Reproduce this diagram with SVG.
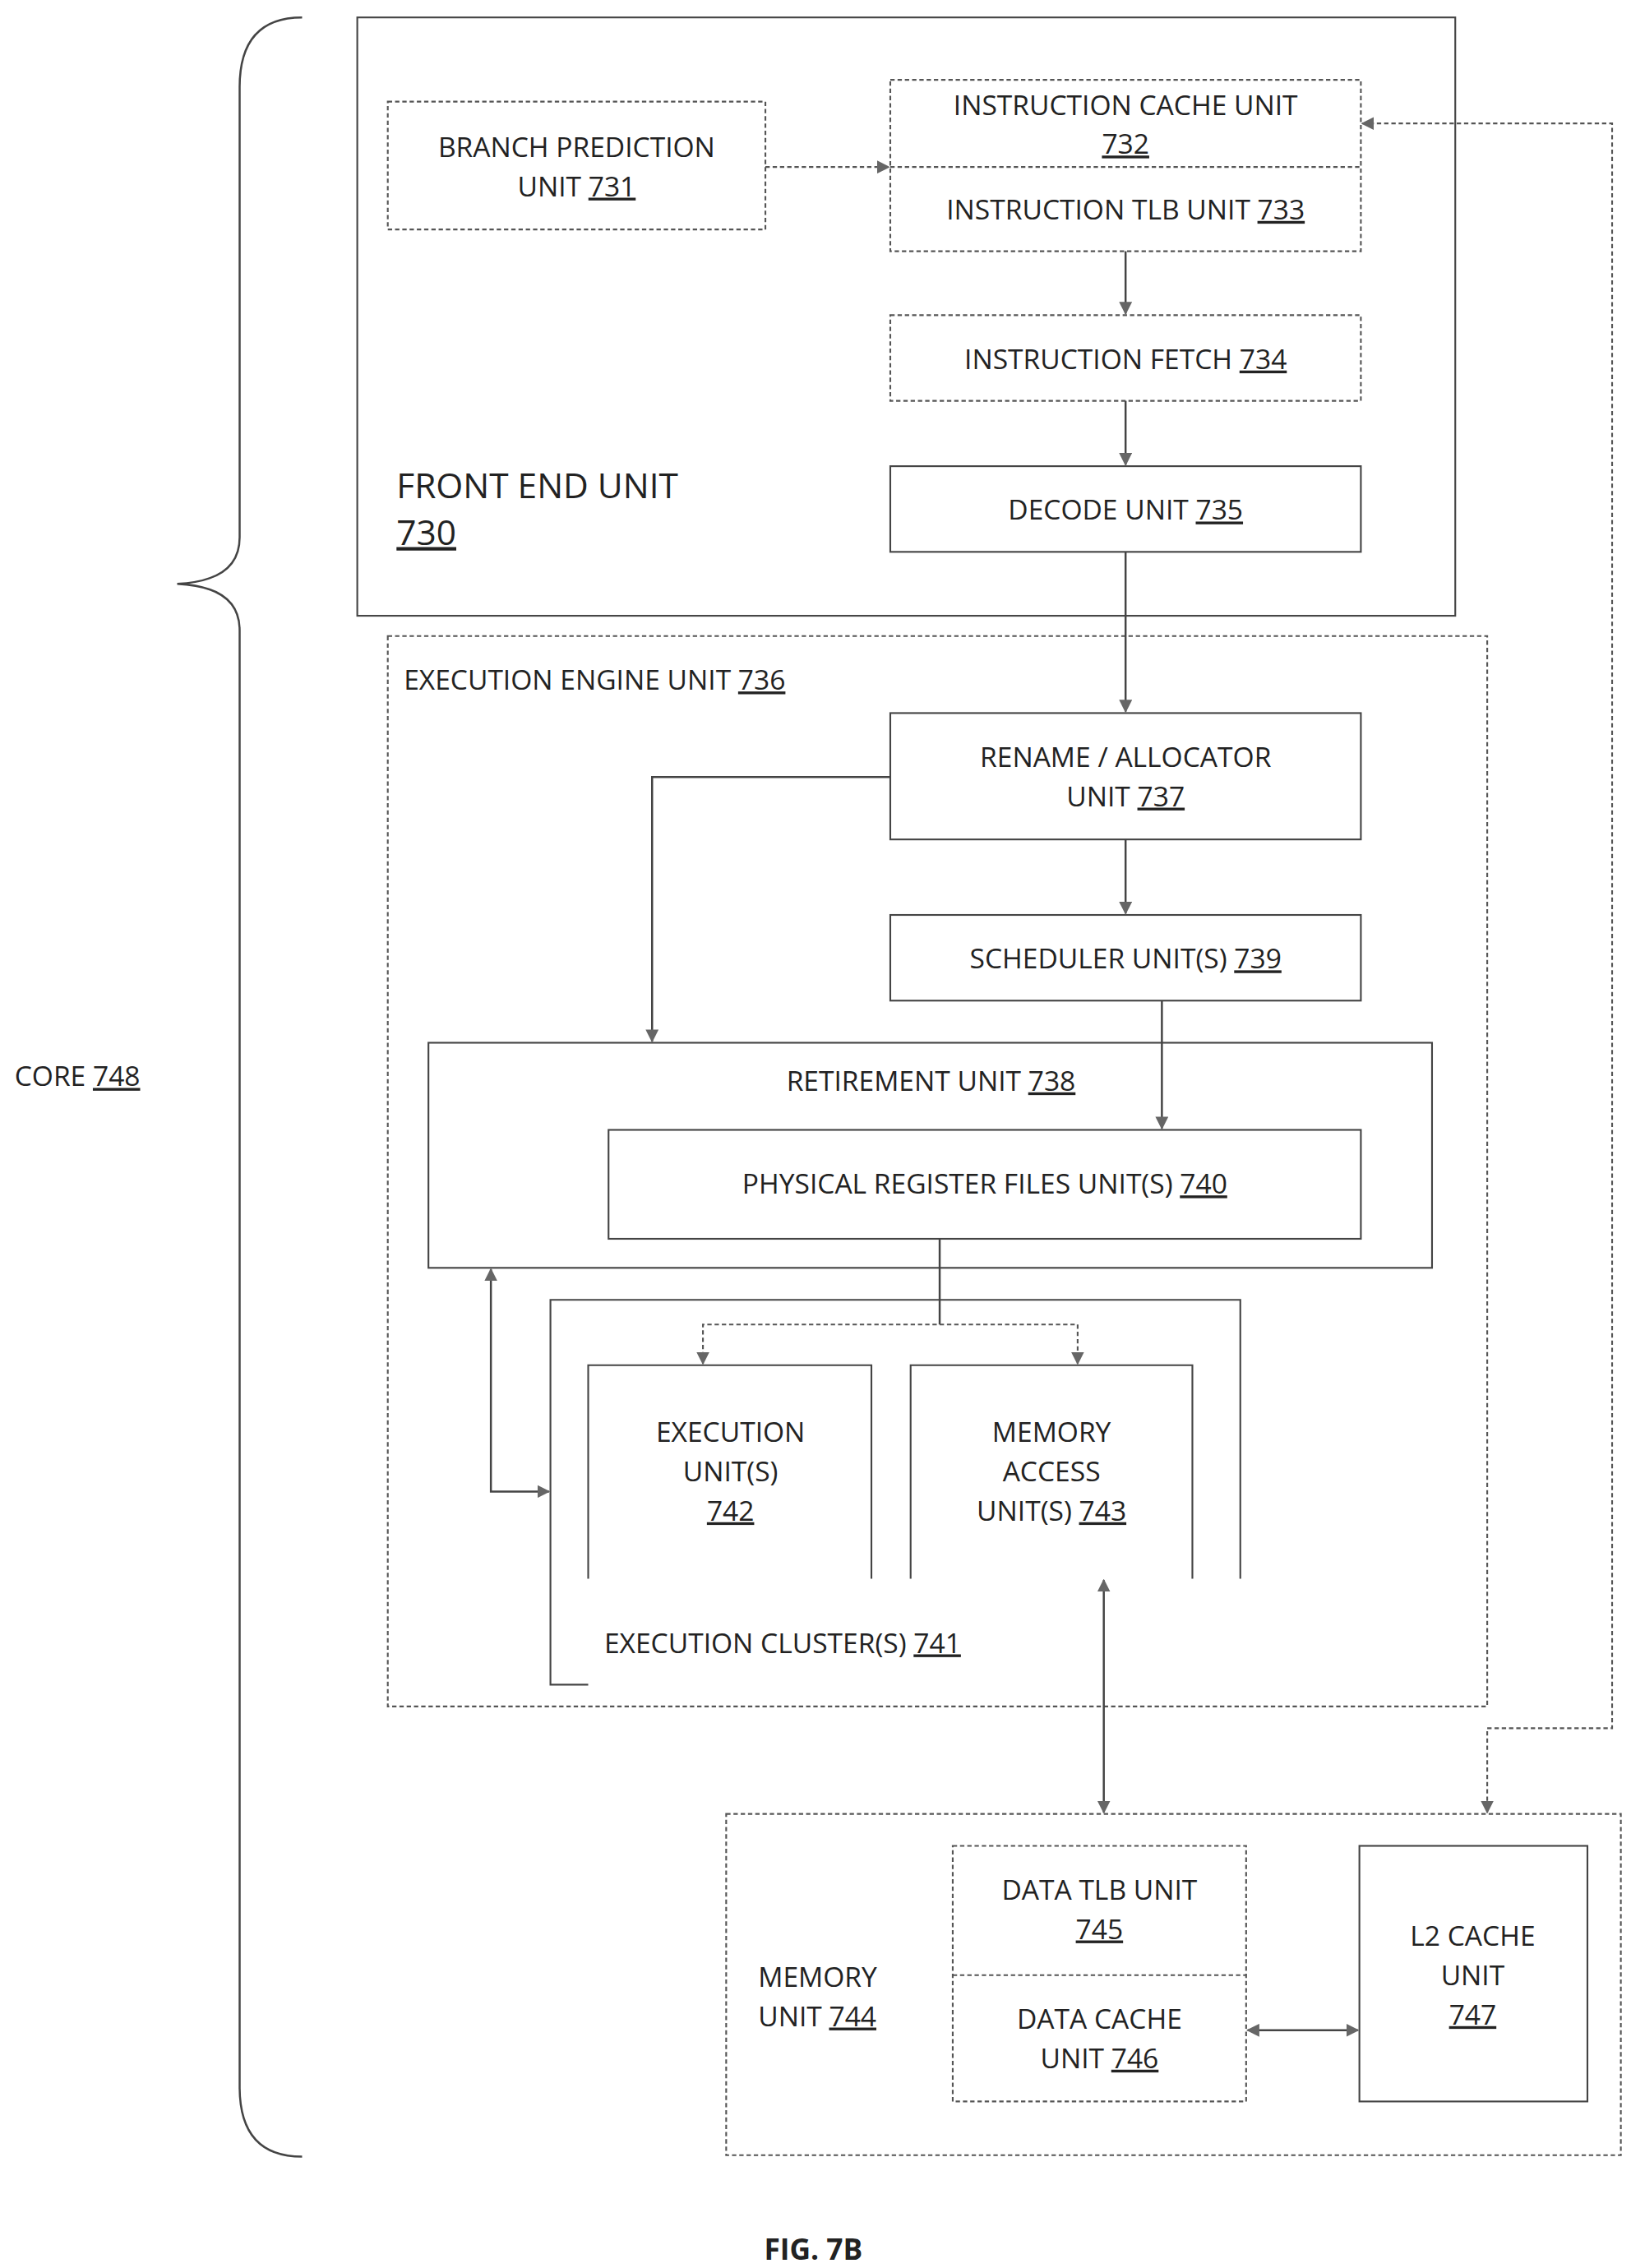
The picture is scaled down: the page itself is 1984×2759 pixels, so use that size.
<svg xmlns="http://www.w3.org/2000/svg" width="1984" height="2759" viewBox="0 0 1984 2759">
<defs>
<style>
.t{font-family:"Open Sans","Liberation Sans",sans-serif;font-size:19px;fill:#222;text-anchor:middle}
.tl{font-family:"Open Sans","Liberation Sans",sans-serif;font-size:19px;fill:#222}
.big{font-size:24px}
.fig{font-size:20px;font-weight:bold}
.box{fill:none;stroke:#444;stroke-width:1.2}
.dbox{fill:none;stroke:#555;stroke-width:1.2;stroke-dasharray:3 2}
.c{fill:none;stroke:#444;stroke-width:1.4}
.cd{fill:none;stroke:#555;stroke-width:1.2;stroke-dasharray:3 2}
</style>
<marker id="a" viewBox="0 0 10 10" refX="9" refY="5" markerWidth="9" markerHeight="9" orient="auto-start-reverse" markerUnits="userSpaceOnUse">
<path d="M0,0 L10,5 L0,10 z" fill="#666"/>
</marker>
</defs>
<rect width="1984" height="2759" fill="#fff"/>
<g transform="scale(1.7667)">
<g id="brace"><path class="c" d="M208,12 Q165,12 165,60 L165,370 Q165,400 122,402 Q165,404 165,434 L165,1437 Q165,1485 208,1485" stroke="#555"/></g>
<g id="core"><text class="tl" x="10" y="748">CORE <tspan text-decoration="underline">748</tspan></text></g>
<g id="frontend"><rect class="box" x="246" y="12" width="756" height="412"/>
<text class="tl big" x="273" y="343">FRONT END UNIT</text>
<text class="tl big" x="273" y="375" text-decoration="underline">730</text></g>
<g id="bpu"><rect class="dbox" x="267" y="70" width="260" height="88"/>
<text class="t" x="397" y="108">BRANCH PREDICTION</text>
<text class="t" x="397" y="135">UNIT <tspan text-decoration="underline">731</tspan></text></g>
<g id="icache"><rect class="dbox" x="613" y="55" width="324" height="118"/><line class="cd" x1="613" y1="115" x2="937" y2="115"/>
<text class="t" x="775" y="79">INSTRUCTION CACHE UNIT</text>
<text class="t" x="775" y="106" text-decoration="underline">732</text>
<text class="t" x="775" y="151">INSTRUCTION TLB UNIT <tspan text-decoration="underline">733</tspan></text></g>
<g id="fetch"><rect class="dbox" x="613" y="217" width="324" height="59"/>
<text class="t" x="775" y="254">INSTRUCTION FETCH <tspan text-decoration="underline">734</tspan></text></g>
<g id="decode"><rect class="box" x="613" y="321" width="324" height="59"/>
<text class="t" x="775" y="358">DECODE UNIT <tspan text-decoration="underline">735</tspan></text></g>
<g id="exec-engine"><rect class="dbox" x="267" y="438" width="757" height="737"/>
<text class="tl" x="278" y="475">EXECUTION ENGINE UNIT <tspan text-decoration="underline">736</tspan></text></g>
<g id="rename"><rect class="box" x="613" y="491" width="324" height="87"/>
<text class="t" x="775" y="528">RENAME / ALLOCATOR</text>
<text class="t" x="775" y="555">UNIT <tspan text-decoration="underline">737</tspan></text></g>
<g id="sched"><rect class="box" x="613" y="630" width="324" height="59"/>
<text class="t" x="775" y="667">SCHEDULER UNIT(S) <tspan text-decoration="underline">739</tspan></text></g>
<g id="retire"><rect class="box" x="295" y="718" width="691" height="155"/>
<text class="t" x="641" y="751">RETIREMENT UNIT <tspan text-decoration="underline">738</tspan></text></g>
<g id="prf"><rect class="box" x="419" y="778" width="518" height="75"/>
<text class="t" x="678" y="822">PHYSICAL REGISTER FILES UNIT(S) <tspan text-decoration="underline">740</tspan></text></g>
<g id="cluster"><path class="box" d="M405,1160 L379,1160 L379,895 L854,895 L854,1087"/>
<text class="tl" x="416" y="1138">EXECUTION CLUSTER(S) <tspan text-decoration="underline">741</tspan></text></g>
<g id="eu"><path class="box" d="M405,1087 L405,940 L600,940 L600,1087"/>
<text class="t" x="503" y="993">EXECUTION</text><text class="t" x="503" y="1020">UNIT(S)</text>
<text class="t" x="503" y="1047" text-decoration="underline">742</text></g>
<g id="mau"><path class="box" d="M627,1087 L627,940 L821,940 L821,1087"/>
<text class="t" x="724" y="993">MEMORY</text><text class="t" x="724" y="1020">ACCESS</text>
<text class="t" x="724" y="1047">UNIT(S) <tspan text-decoration="underline">743</tspan></text></g>
<g id="memunit"><rect class="dbox" x="500" y="1249" width="616" height="235"/>
<text class="tl" x="522" y="1368">MEMORY</text><text class="tl" x="522" y="1395">UNIT <tspan text-decoration="underline">744</tspan></text></g>
<g id="dtlb"><rect class="dbox" x="656" y="1271" width="202" height="176"/><line class="cd" x1="656" y1="1360" x2="858" y2="1360"/>
<text class="t" x="757" y="1308">DATA TLB UNIT</text><text class="t" x="757" y="1335" text-decoration="underline">745</text>
<text class="t" x="757" y="1397">DATA CACHE</text><text class="t" x="757" y="1424">UNIT <tspan text-decoration="underline">746</tspan></text></g>
<g id="l2"><rect class="box" x="936" y="1271" width="157" height="176"/>
<text class="t" x="1014" y="1340">L2 CACHE</text><text class="t" x="1014" y="1367">UNIT</text>
<text class="t" x="1014" y="1394" text-decoration="underline">747</text></g>
<g id="connectors">
<line class="cd" x1="527" y1="115" x2="612" y2="115" marker-end="url(#a)"/>
<line class="c" x1="775" y1="173" x2="775" y2="216" marker-end="url(#a)"/>
<line class="c" x1="775" y1="276" x2="775" y2="320" marker-end="url(#a)"/>
<line class="c" x1="775" y1="380" x2="775" y2="490" marker-end="url(#a)"/>
<path class="c" d="M613,535 L449,535 L449,717" stroke-width="2.2" marker-end="url(#a)"/>
<line class="c" x1="775" y1="578" x2="775" y2="629" marker-end="url(#a)"/>
<line class="c" x1="800" y1="689" x2="800" y2="777" stroke-width="2.2" marker-end="url(#a)"/>
<path class="c" d="M647,853 L647,912"/>
<path class="cd" d="M484,939 L484,912 L742,912 L742,939" marker-start="url(#a)" marker-end="url(#a)"/>
<path class="c" d="M338,874 L338,1027 L378,1027" marker-start="url(#a)" marker-end="url(#a)"/>
<line class="c" x1="760" y1="1088" x2="760" y2="1248" marker-start="url(#a)" marker-end="url(#a)"/>
<path class="cd" d="M938,85 L1110,85 L1110,1190 L1024,1190 L1024,1248" marker-start="url(#a)" marker-end="url(#a)"/>
<line class="c" x1="859" y1="1398" x2="935" y2="1398" marker-start="url(#a)" marker-end="url(#a)"/>
</g>
<text class="t fig" x="560" y="1556">FIG. 7B</text>
</g>
</svg>
